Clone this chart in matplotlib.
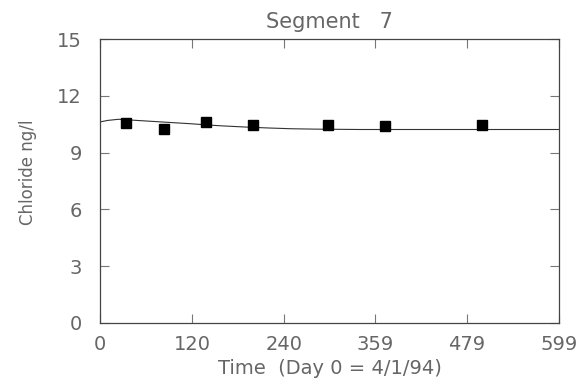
import numpy as np
import matplotlib.pyplot as plt

# observed chloride (squares)
obs_day = [34, 83, 138, 199, 298, 372, 499]
obs_val = [10.55, 10.23, 10.63, 10.44, 10.46, 10.41, 10.47]

# model curve
mod_day = [0, 10, 24, 40, 60, 80, 100, 120, 140, 160, 190, 220, 250, 280, 310, 340, 370, 400, 450, 500, 550, 599]
mod_val = [10.62, 10.70, 10.76, 10.72, 10.67, 10.62, 10.57, 10.52, 10.46, 10.41, 10.35, 10.30, 10.26, 10.24, 10.23, 10.22, 10.22, 10.22, 10.22, 10.22, 10.22, 10.22]

xticks = [0, 120, 240, 359, 479, 599]
yticks = [0, 3, 6, 9, 12, 15]

txt = "#666666"
fs = 14

fig = plt.figure(figsize=(5.87, 3.87), dpi=100)
ax = fig.add_axes([0.1704, 0.1654, 0.7819, 0.7338])

ax.plot(mod_day, mod_val, color="#333333", lw=0.8)
ax.plot(obs_day, obs_val, "s", color="black", markersize=7)

ax.set_xlim(0, 599)
ax.set_ylim(0, 15)
ax.set_xticks(xticks)
ax.set_yticks(yticks)
ax.tick_params(direction="in", length=6.5, width=0.8, color="#777777",
               top=True, right=True, labelcolor=txt, labelsize=fs)
ax.tick_params(axis="x", pad=9)
ax.tick_params(axis="y", pad=13)
for s in ax.spines.values():
    s.set_color("#444444")
    s.set_linewidth(0.9)

ax.set_title("Segment   7", color=txt, fontsize=fs + 1, pad=8)
ax.set_xlabel("Time  (Day 0 = 4/1/94)", color=txt, fontsize=fs, labelpad=3)
ax.set_ylabel("Chloride ng/l", color=txt, fontsize=fs - 2)
ax.yaxis.set_label_coords(-0.137, 0.532)

fig.savefig("out.png", dpi=100)
